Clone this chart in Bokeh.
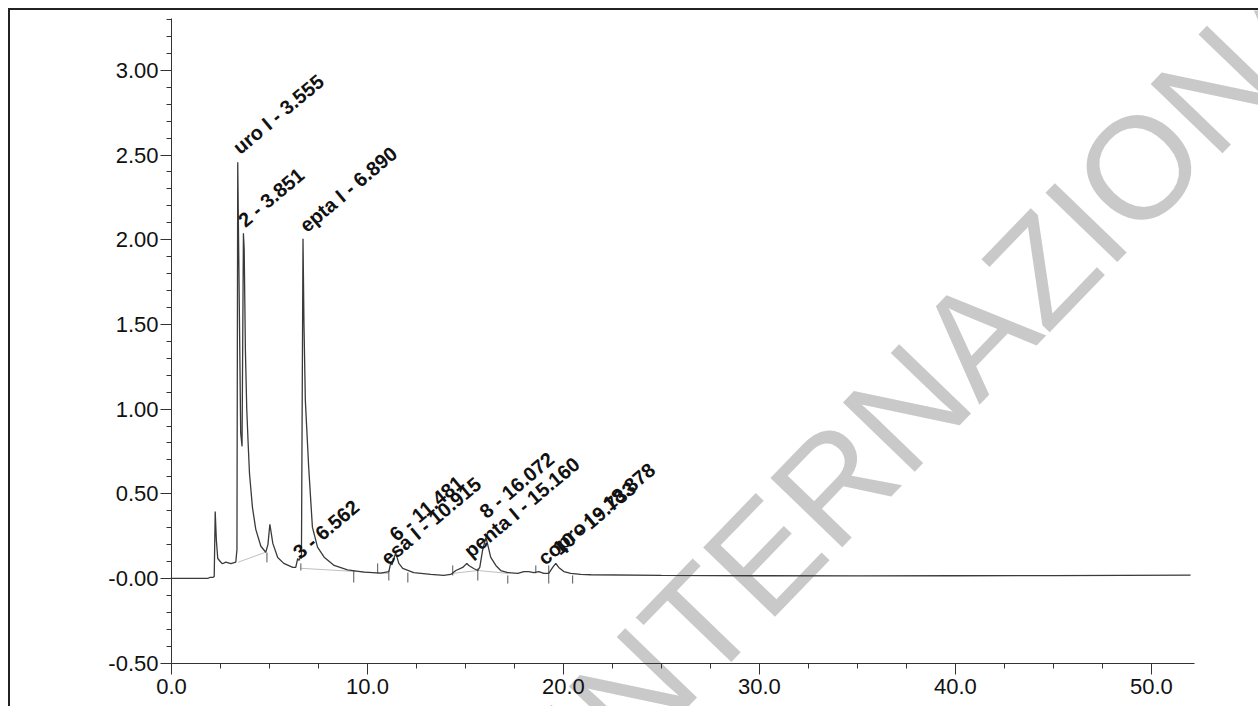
from bokeh.plotting import figure
from bokeh.models import Range1d, FixedTicker, CustomJSTickFormatter, Label, ColumnDataSource
from bokeh.embed import file_html
from bokeh.resources import INLINE
from bokeh.core.properties import value

# ---- chromatogram trace (minutes, signal) ----
time_min = [0.0, 1.85, 1.95, 2.11, 2.18, 2.23, 2.29, 2.36, 2.52, 2.60, 2.77, 3.03, 3.28,
            3.34, 3.38, 3.53, 3.60, 3.67, 3.71, 3.77, 3.84, 3.91, 3.98, 4.13, 4.30, 4.56,
            4.81, 4.92, 5.02, 5.17, 5.42, 5.73, 6.19, 6.34, 6.44, 6.50, 6.57, 6.63, 6.71,
            6.76, 6.83, 7.00, 7.19, 7.45, 7.79, 8.30, 8.98, 9.83, 10.68, 11.09, 11.19,
            11.25, 11.44, 11.60, 11.80, 12.36, 13.23, 13.89, 14.25, 14.51, 14.86, 15.07,
            15.17, 15.42, 15.62, 15.73, 15.87, 16.04, 16.12, 16.29, 16.55, 16.80, 17.16,
            17.67, 17.98, 18.23, 18.48, 18.74, 19.00, 19.25, 19.45, 19.61, 19.76, 20.02,
            20.37, 20.88, 21.40, 25.0, 30.0, 35.0, 40.0, 45.0, 52.0]
signal = [0.0, 0.0, 0.006, 0.006, 0.012, 0.395, 0.224, 0.118, 0.096, 0.087, 0.096, 0.087, 0.096,
          0.17, 2.457, 0.86, 0.78, 2.038, 1.94, 1.35, 1.00, 0.80, 0.62, 0.42, 0.29, 0.19,
          0.155, 0.20, 0.32, 0.207, 0.124, 0.089, 0.065, 0.065, 0.118, 0.106, 0.124, 0.118, 2.005,
          1.50, 1.05, 0.657, 0.303, 0.185, 0.126, 0.077, 0.051, 0.037, 0.031, 0.041, 0.094,
          0.080, 0.152, 0.089, 0.059, 0.035, 0.024, 0.018, 0.024, 0.047, 0.065, 0.089,
          0.077, 0.059, 0.047, 0.065, 0.165, 0.242, 0.207, 0.124, 0.077, 0.047, 0.035,
          0.030, 0.041, 0.041, 0.035, 0.041, 0.030, 0.030, 0.065, 0.089, 0.065, 0.041,
          0.030, 0.024, 0.022, 0.018, 0.016, 0.015, 0.016, 0.017, 0.020]

# ---- peak annotations ----
peak_labels = ["uro I - 3.555", "2 - 3.851", "epta I - 6.890", "3 - 6.562",
               "esa I - 10.915", "6 - 11.481", "penta I - 15.160", "8 - 16.072",
               "copro I - 18.878", "10 - 19.733"]
label_t = [3.28, 3.54, 6.68, 6.34, 10.83, 11.27, 15.07, 15.86, 18.84, 19.60]
label_y = [2.53, 2.10, 2.07, 0.14, 0.106, 0.245, 0.148, 0.38, 0.106, 0.165]

# ---- integration event marks (time, top, bottom) ----
event_t = [4.87, 6.60, 9.30, 10.52, 11.09, 12.06, 14.35, 15.63, 17.16, 18.59, 19.25, 20.47]
event_top = [0.153, 0.089, 0.047, 0.089, 0.047, 0.035, 0.077, 0.059, 0.018, 0.077, 0.077, 0.018]
event_bot = [0.095, 0.047, -0.024, 0.030, -0.012, -0.024, 0.018, -0.012, -0.030, 0.030, -0.030, -0.030]

# ---- integration baselines (faint) ----
base_t0 = [3.40, 6.60, 14.35, 15.63]
base_y0 = [0.096, 0.060, 0.030, 0.047]
base_t1 = [4.81, 11.05, 15.63, 17.16]
base_y1 = [0.155, 0.030, 0.047, 0.030]

x_major = [0, 10, 20, 30, 40, 50]
y_major = [-0.5, 0.0, 0.5, 1.0, 1.5, 2.0, 2.5, 3.0]

W, H = 1250, 698

# ---- watermark layer (separate root, drawn underneath the chart) ----
wm_fig = figure(width=W, height=H, output_backend="svg", toolbar_location=None,
                x_range=Range1d(0, W), y_range=Range1d(0, H), min_border=0,
                x_axis_location=None, y_axis_location=None, title_location=None)
wm_fig.styles = {"position": "absolute", "left": "8px", "top": "8px", "z-index": "1",
                 "border-left": "2px solid #222", "border-top": "2px solid #222"}
wm_fig.outline_line_color = None
wm_fig.xgrid.visible = False
wm_fig.ygrid.visible = False
wm_fig.background_fill_color = "white"
wm_fig.border_fill_color = "white"
wm_fig.add_layout(Label(x=558, y=-50, text="INTERNAZIONALE", angle=46, angle_units="deg",
                        text_font="Liberation Sans", text_font_size="145px",
                        text_color="#c9c9c9", text_align="left", text_baseline="alphabetic"))

# ---- chromatogram (transparent, on top) ----
p = figure(width=W, height=H, output_backend="svg", toolbar_location=None,
           x_range=Range1d(0, 52.2), y_range=Range1d(-0.502, 3.306),
           min_border_left=161, min_border_right=66, min_border_top=8, min_border_bottom=45)
p.styles = {"position": "absolute", "left": "10px", "top": "10px", "z-index": "2"}
p.outline_line_color = None
p.xgrid.visible = False
p.ygrid.visible = False
p.background_fill_color = None
p.border_fill_color = None

p.segment(x0=base_t0, y0=base_y0, x1=base_t1, y1=base_y1, line_color="#c0c0c0", line_width=1)
p.segment(x0=event_t, y0=event_top, x1=event_t, y1=event_bot, line_color="#555555", line_width=1)
p.line(time_min, signal, line_color="#3a3a3a", line_width=1.3)

src = ColumnDataSource(dict(x=label_t, y=label_y, text=peak_labels))
p.text(x="x", y="y", text="text", source=src, angle=40, angle_units="deg",
       text_font=value("Liberation Sans"), text_font_style="bold", text_font_size="20px",
       text_color="#111111", text_align="left", text_baseline="alphabetic")

for ax in (p.xaxis[0], p.yaxis[0]):
    ax.axis_line_color = "#333333"
    ax.axis_line_width = 1
    ax.major_tick_line_color = "#333333"
    ax.minor_tick_line_color = "#333333"
    ax.major_tick_in = 0
    ax.minor_tick_in = 0
    ax.major_label_text_font = "Liberation Sans"
    ax.major_label_text_font_size = "22px"
    ax.major_label_text_color = "#111111"

p.xaxis.ticker = FixedTicker(ticks=x_major, minor_ticks=[2.5 * i for i in range(21)])
p.yaxis.ticker = FixedTicker(ticks=y_major, minor_ticks=[round(-0.5 + 0.1 * i, 2) for i in range(39)])
p.xaxis.formatter = CustomJSTickFormatter(code="return tick.toFixed(1);")
p.yaxis.formatter = CustomJSTickFormatter(code="return Math.abs(tick) < 1e-9 ? '-0.00' : tick.toFixed(2);")
p.xaxis.major_tick_out = 11
p.xaxis.minor_tick_out = 5
p.yaxis.major_tick_out = 11
p.yaxis.minor_tick_out = 5
p.xaxis.major_label_standoff = 4
p.yaxis.major_label_standoff = 2

open("out.html", "w").write(file_html([wm_fig, p], INLINE))
